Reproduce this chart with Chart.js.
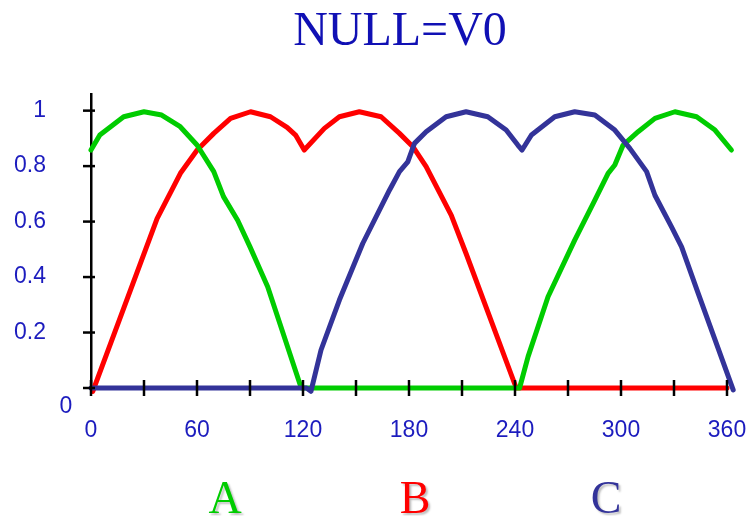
<!DOCTYPE html>
<html lang="en">
<head>
    <meta charset="UTF-8">
    <title>NULL=V0</title>
    <script src="https://cdn.jsdelivr.net/npm/chart.js@4.4.1/dist/chart.umd.min.js"></script>
    <style>
        html, body { margin: 0; padding: 0; background: #fff; }
        #wrap { width: 749px; height: 516px; }
    </style>
</head>
<body>
<div id="wrap"><canvas id="myChart"></canvas></div>
<script>
    // phase A (green)
    var aDeg = [0, 5, 18.5, 30, 40, 50.5, 60, 69.5, 75, 83, 90, 100, 119,
                242.6, 247.4, 258.7, 273.8, 285.2, 292.7, 296.5, 301.2, 309.7, 319.2, 330.5, 342.8, 353.2, 362.5];
    var aVal = [0.858, 0.912, 0.978, 0.996, 0.984, 0.942, 0.876, 0.78, 0.69, 0.605, 0.509, 0.365, 0,
                0, 0.113, 0.329, 0.533, 0.677, 0.774, 0.804, 0.876, 0.924, 0.972, 0.996, 0.978, 0.93, 0.858];

    // phase B (red)
    var bDeg = [1, 37.4, 50.6, 60.1, 69.5, 79, 90.3, 101.6, 111, 115.8, 120.7, 132.1, 140.6, 151.9,
                164.2, 174.6, 182.2, 189.7, 203.9, 212.3, 240.7, 360];
    var bVal = [-0.012, 0.611, 0.774, 0.858, 0.918, 0.972, 0.996, 0.978, 0.94, 0.912, 0.858, 0.936, 0.978, 0.996,
                0.978, 0.918, 0.87, 0.798, 0.623, 0.485, 0, 0];

    // phase C (blue)
    var cDeg = [0, 122, 124.5, 130.2, 140.6, 153.8, 169, 174.6, 179.3, 183.1, 189.7, 201, 212.3, 224.6, 235, 241.6,
                244, 249.3, 262.5, 273.8, 285.2, 296.5, 305, 314.5, 319.2, 328.6, 334.3, 343.7, 363.5];
    var cVal = [0, 0, -0.012, 0.137, 0.317, 0.521, 0.714, 0.78, 0.815, 0.882, 0.924, 0.978, 0.996, 0.978, 0.93, 0.876,
                0.858, 0.912, 0.978, 0.996, 0.984, 0.93, 0.864, 0.78, 0.695, 0.581, 0.509, 0.341, -0.007];

    var names = ['A', 'B', 'C'];
    var colors = ['#00cc00', '#ff0000', '#333399'];
    var xTickStep = 30;
    var xLabelStep = 60;
    var yTicks = [0, 0.2, 0.4, 0.6, 0.8, 1];

    function pts(xs, ys) {
        return xs.map(function(x, i) { return { x: x, y: ys[i] }; });
    }

    var tickBlue = '#1c1cbe';
    var sansFont = '"Liberation Sans", Arial, sans-serif';
    var serifFont = '"Liberation Serif", "Times New Roman", serif';

    // title, phase letters, the lone "0" and the crossing tick marks
    var decor = {
        id: 'decor',
        afterDatasetsDraw: function(chart) {
            var ctx = chart.ctx;
            var xs = chart.scales.x, ys = chart.scales.y;
            ctx.save();
            ctx.strokeStyle = '#000';
            ctx.lineWidth = 2.5;
            xs.ticks.forEach(function(t) {
                var px = xs.getPixelForValue(t.value);
                ctx.beginPath();
                ctx.moveTo(px, ys.bottom - 8);
                ctx.lineTo(px, ys.bottom + 8);
                ctx.stroke();
            });
            ys.ticks.forEach(function(t) {
                var py = ys.getPixelForValue(t.value);
                ctx.beginPath();
                ctx.moveTo(xs.left - 8, py);
                ctx.lineTo(xs.left + 4, py);
                ctx.stroke();
            });

            ctx.fillStyle = tickBlue;
            ctx.font = '23px ' + sansFont;
            ctx.textAlign = 'center';
            ctx.textBaseline = 'middle';
            ctx.fillText('0', xs.left - 25, ys.bottom + 19);

            ctx.textBaseline = 'alphabetic';
            ctx.fillStyle = '#1010b4';
            ctx.font = '48px ' + serifFont;
            ctx.fillText('NULL=V0', 400, 45);

            var spots = [225, 415, 606];
            ctx.font = '46px ' + serifFont;
            ctx.shadowColor = 'rgba(0,0,0,0.25)';
            ctx.shadowOffsetX = 2;
            ctx.shadowOffsetY = 2;
            ctx.shadowBlur = 2;
            chart.data.datasets.forEach(function(ds, i) {
                ctx.fillStyle = ds.borderColor;
                ctx.fillText(ds.label, spots[i], 513);
            });
            ctx.restore();
        }
    };

    var ctx = document.getElementById('myChart').getContext('2d');
    var chart = new Chart(ctx, {
        type: 'line',
        data: {
            datasets: [
                { label: names[0], data: pts(aDeg, aVal), borderColor: colors[0], order: 1 },
                { label: names[1], data: pts(bDeg, bVal), borderColor: colors[1], order: 2 },
                { label: names[2], data: pts(cDeg, cVal), borderColor: colors[2], order: 0 }
            ]
        },
        options: {
            responsive: true,
            maintainAspectRatio: false,
            animation: false,
            layout: { padding: { left: 0, right: 22, top: 94, bottom: 0 } },
            elements: {
                line: { borderWidth: 5, tension: 0, fill: false, borderCapStyle: 'round', borderJoinStyle: 'round' },
                point: { radius: 0 }
            },
            datasets: { line: { clip: false } },
            plugins: {
                legend: { display: false },
                title: { display: false },
                tooltip: { enabled: false }
            },
            scales: {
                x: {
                    type: 'linear',
                    min: 0,
                    max: 360,
                    grid: { display: false, drawTicks: false },
                    border: { display: true, color: '#000', width: 2 },
                    ticks: {
                        stepSize: xTickStep,
                        autoSkip: false,
                        maxRotation: 0,
                        padding: 29,
                        color: tickBlue,
                        font: { family: sansFont, size: 23 },
                        callback: function(v) { return v % xLabelStep === 0 ? String(v) : ''; }
                    },
                    afterFit: function(scale) {
                        scale.height = 128;
                        scale.paddingLeft = 0;
                        scale.paddingRight = 0;
                    }
                },
                y: {
                    min: 0,
                    max: 1.06,
                    grid: { display: false, drawTicks: false },
                    border: { display: true, color: '#000', width: 2.5 },
                    afterBuildTicks: function(scale) {
                        scale.ticks = yTicks.map(function(v) { return { value: v }; });
                    },
                    ticks: {
                        padding: 45,
                        color: tickBlue,
                        font: { family: sansFont, size: 23 },
                        callback: function(v) { return v === 0 ? '' : String(v); }
                    },
                    afterFit: function(scale) {
                        scale.width = 91;
                        scale.paddingTop = 0;
                        scale.paddingBottom = 0;
                    }
                }
            }
        },
        plugins: [decor]
    });
</script>
</body>
</html>
